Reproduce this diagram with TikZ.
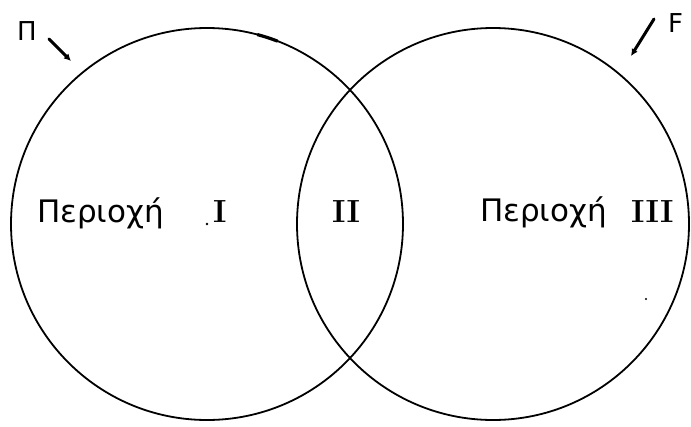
\documentclass[tikz,border=0pt]{standalone}
\usepackage{fontspec}
\usepackage{tikz}
\usetikzlibrary{arrows.meta}
\newfontfamily\greekfont{DejaVu Sans}

\begin{document}
\begin{tikzpicture}[x=1pt, y=-1pt,
    setcircle/.style={circle, draw=black, line width=1.8pt, inner sep=0pt,
                      minimum size=392pt},
    regionname/.style={anchor=base west, inner sep=0pt,
                       font=\greekfont\fontsize{31}{33}\selectfont},
    numeral/.style={anchor=base west, inner sep=0pt,
                    font=\rmfamily\bfseries\fontsize{32}{34}\selectfont},
    forcename/.style={anchor=base west, inner sep=0pt,
                      font=\greekfont\fontsize{26}{28}\selectfont},
    pointer/.style={draw=black, line width=3pt, line cap=round,
                    -{Latex[length=7pt, width=7pt]}},
  ]
  \useasboundingbox (0,0) rectangle (691,426);

  \node[setcircle] (setA) at (207,224) {};
  \node[setcircle] (setB) at (493,224) {};
  \draw[line width=3.2pt, line cap=round] ([shift={(-75:196)}]207,224) arc[start angle=-75, end angle=-69, radius=196];

  \node[regionname] (nameA) at (37,222) {Περιοχή};
  \node[numeral] (numA) at (213,222) {I};
  \node[numeral] (numAB) at (332,222) {II};
  \node[regionname] (nameB) at (480,221) {Περιοχή};
  \node[numeral] (numB) at (631,222) {III};

  \node[forcename] (forceP) at (17,40) {Π};
  \node[forcename] (forceF) at (668,32) {F};

  \coordinate (pTail) at (49,39);
  \coordinate (pHead) at (71,61);
  \coordinate (fTail) at (654,19);
  \coordinate (fHead) at (631,56);
  \draw[pointer] (pTail) -- (pHead);
  \draw[pointer] (fTail) -- (fHead);

  \fill (207,224) circle (1.4pt);
  \fill (646,299) circle (1.2pt);
\end{tikzpicture}
\end{document}
